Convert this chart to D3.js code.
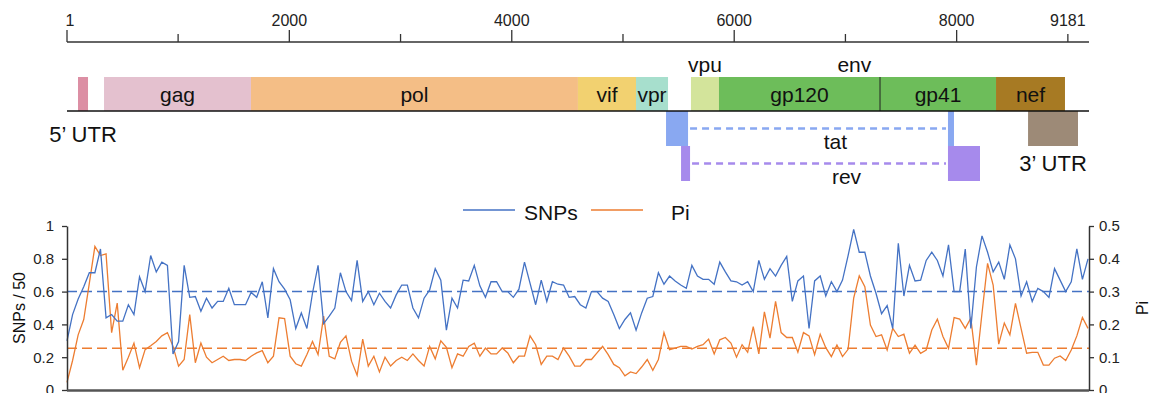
<!DOCTYPE html>
<html>
<head>
<meta charset="utf-8">
<script src="https://cdn.jsdelivr.net/npm/d3@7"></script>
<style>
  body { margin: 0; background: #ffffff; }
  .genome-chart svg { display: block; font-family: "Liberation Sans", Arial, Helvetica, sans-serif; }
</style>
</head>
<body>
<div class="genome-chart"></div>
<script>
// Genome ruler
var genomeLength = 9181;
var rulerTicks = [1, 1000, 2000, 3000, 4000, 5000, 6000, 7000, 8000, 9000];
var rulerLabels = ["1", "", "2000", "", "4000", "", "6000", "", "8000", "9181"];

// Genes drawn on top of the genome line
var geneNames = ["5utr", "gag", "pol", "vif", "vpr", "vpu", "gp120", "gp41", "nef"];
var geneLabels = ["", "gag", "pol", "vif", "vpr", "", "gp120", "gp41", "nef"];
var geneStarts = [100, 334, 1655, 4595, 5117, 5611, 5863, 7311, 8354];
var geneEnds = [190, 1655, 4595, 5117, 5405, 5863, 7311, 8354, 8974];

// Spliced genes and the 3' UTR below the line
var tatStarts = [5387, 7922];
var tatEnds = [5585, 7976];
var revStarts = [5522, 7922];
var revEnds = [5603, 8210];
var utr3Start = 8642;
var utr3End = 9091;

// Sliding windows of 50 bp along the genome
var snps = [
  0.30, 0.46, 0.555, 0.63, 0.715, 0.715, 0.86, 0.44, 0.46, 0.42,
  0.42, 0.52, 0.46, 0.69, 0.60, 0.82, 0.72, 0.78, 0.76, 0.22,
  0.295, 0.76, 0.565, 0.57, 0.48, 0.56, 0.50, 0.54, 0.54, 0.62,
  0.52, 0.52, 0.52, 0.595, 0.565, 0.66, 0.44, 0.74, 0.66, 0.615,
  0.55, 0.375, 0.47, 0.375, 0.59, 0.76, 0.405, 0.45, 0.50, 0.715,
  0.60, 0.545, 0.79, 0.54, 0.60, 0.52, 0.59, 0.54, 0.50, 0.58,
  0.64, 0.64, 0.50, 0.44, 0.56, 0.61, 0.74, 0.67, 0.365, 0.56,
  0.50, 0.67, 0.665, 0.76, 0.635, 0.565, 0.66, 0.66, 0.60, 0.60,
  0.565, 0.615, 0.78, 0.65, 0.52, 0.67, 0.54, 0.66, 0.645, 0.64,
  0.565, 0.57, 0.52, 0.50, 0.60, 0.60, 0.56, 0.54, 0.46, 0.375,
  0.43, 0.47, 0.365, 0.47, 0.56, 0.57, 0.715, 0.645, 0.695, 0.665,
  0.64, 0.62, 0.76, 0.695, 0.675, 0.675, 0.645, 0.78, 0.72, 0.665,
  0.66, 0.64, 0.66, 0.60, 0.79, 0.675, 0.74, 0.695, 0.76, 0.815,
  0.54, 0.665, 0.695, 0.375, 0.665, 0.695, 0.573, 0.66, 0.60, 0.67,
  0.82, 0.98, 0.84, 0.84, 0.695, 0.59, 0.465, 0.515, 0.375, 0.895,
  0.573, 0.76, 0.665, 0.67, 0.79, 0.84, 0.79, 0.695, 0.885, 0.60,
  0.60, 0.86, 0.375, 0.75, 0.94, 0.84, 0.72, 0.78, 0.675, 0.885,
  0.80, 0.573, 0.66, 0.54, 0.62, 0.60, 0.565, 0.74, 0.67, 0.60,
  0.66, 0.86, 0.675, 0.80
];
var pi = [
  0.023, 0.09, 0.168, 0.215, 0.325, 0.438, 0.41, 0.415, 0.175, 0.265,
  0.06, 0.10, 0.143, 0.068, 0.123, 0.135, 0.148, 0.165, 0.175, 0.133,
  0.073, 0.093, 0.23, 0.083, 0.143, 0.10, 0.083, 0.093, 0.103, 0.09,
  0.093, 0.093, 0.09, 0.103, 0.113, 0.12, 0.083, 0.103, 0.22, 0.218,
  0.103, 0.08, 0.073, 0.108, 0.148, 0.108, 0.225, 0.103, 0.095, 0.145,
  0.165, 0.088, 0.045, 0.155, 0.073, 0.103, 0.055, 0.10, 0.073, 0.09,
  0.10, 0.09, 0.11, 0.09, 0.073, 0.133, 0.095, 0.15, 0.13, 0.068,
  0.11, 0.103, 0.133, 0.143, 0.103, 0.128, 0.11, 0.11, 0.128, 0.113,
  0.083, 0.103, 0.103, 0.165, 0.138, 0.078, 0.103, 0.103, 0.093, 0.128,
  0.103, 0.073, 0.073, 0.093, 0.093, 0.113, 0.133, 0.108, 0.078, 0.068,
  0.043, 0.055, 0.05, 0.07, 0.093, 0.06, 0.093, 0.175, 0.123, 0.128,
  0.133, 0.133, 0.125, 0.133, 0.138, 0.155, 0.11, 0.153, 0.16, 0.143,
  0.10, 0.138, 0.115, 0.193, 0.11, 0.238, 0.158, 0.27, 0.175, 0.16,
  0.16, 0.115, 0.175, 0.165, 0.108, 0.17, 0.129, 0.102, 0.137, 0.102,
  0.124, 0.28, 0.348, 0.315, 0.198, 0.163, 0.168, 0.122, 0.188, 0.163,
  0.17, 0.112, 0.137, 0.112, 0.122, 0.183, 0.216, 0.163, 0.127, 0.221,
  0.216, 0.188, 0.219, 0.076, 0.234, 0.386, 0.32, 0.14, 0.204, 0.168,
  0.264, 0.188, 0.112, 0.115, 0.115, 0.076, 0.076, 0.097, 0.104, 0.09,
  0.122, 0.165, 0.221, 0.188
];
var snpsMean = 0.6;
var piMean = 0.127;

var snpTicks = [0, 0.2, 0.4, 0.6, 0.8, 1];
var piTicks = [0, 0.1, 0.2, 0.3, 0.4, 0.5];

// Colours
var geneColors = {
  "5utr": "#dc8fa4", gag: "#e4c1cf", pol: "#f4be86", vif: "#f2d170", vpr: "#a7dfcd",
  vpu: "#d3e49b", gp120: "#6dbd5a", gp41: "#6dbd5a", nef: "#a77a23"
};
var tatColor = "#89a8f1";
var revColor = "#a68aec";
var utr3Color = "#9d8a77";
var snpColor = "#4472c4";
var piColor = "#ed7d31";
var axisColor = "#333333";

drawChart(d3.select(".genome-chart"));

function drawChart(divElement) {
  var width = 1149, height = 393;
  var left = 67, right = 1088;

  var svg = divElement.append("svg")
    .attr("width", width)
    .attr("height", height);

  // Genome coordinate scale shared by the ruler and the gene map
  var gx = d3.scaleLinear().domain([1, genomeLength]).range([left, right]);

  // Ruler on top
  var rulerY = 42;
  var ruler = svg.append("g").attr("transform", "translate(0," + rulerY + ")");
  ruler.append("line")
    .attr("x1", left).attr("x2", right + 1)
    .attr("stroke", axisColor).attr("stroke-width", 1.3);
  ruler.selectAll(".tick")
    .data(rulerTicks)
    .enter()
    .append("line")
    .attr("x1", d => gx(d)).attr("x2", d => gx(d))
    .attr("y1", 0)
    .attr("y2", (d, i) => (i % 2 == 0 && i < 9) ? -12 : -8)
    .attr("stroke", axisColor).attr("stroke-width", 1.3);
  ruler.selectAll(".tick-label")
    .data(rulerTicks)
    .enter()
    .append("text")
    .attr("x", (d, i) => gx(d) + (i == 0 ? 3 : 0))
    .attr("y", -16)
    .attr("text-anchor", "middle")
    .attr("font-size", 16)
    .attr("fill", "#222")
    .text((d, i) => rulerLabels[i]);

  // Gene map
  var lineY = 111, boxTop = 77, rowH = 35;
  var genes = geneNames.map((n, i) => ({ name: n, label: geneLabels[i], start: geneStarts[i], end: geneEnds[i] }));
  svg.selectAll(".gene")
    .data(genes)
    .enter()
    .append("rect")
    .attr("x", d => gx(d.start))
    .attr("y", boxTop)
    .attr("width", d => gx(d.end) - gx(d.start))
    .attr("height", lineY - boxTop)
    .attr("fill", d => geneColors[d.name]);
  svg.selectAll(".gene-label")
    .data(genes.filter(d => d.label))
    .enter()
    .append("text")
    .attr("x", d => (gx(d.start) + gx(d.end)) / 2)
    .attr("y", 102)
    .attr("text-anchor", "middle")
    .attr("font-size", 21)
    .attr("fill", "#111")
    .text(d => d.label);

  // env divider between gp120 and gp41
  svg.append("line")
    .attr("x1", gx(geneStarts[7])).attr("x2", gx(geneStarts[7]))
    .attr("y1", boxTop).attr("y2", lineY)
    .attr("stroke", "#222").attr("stroke-width", 1);

  svg.append("text").attr("x", gx((geneStarts[5] + geneEnds[5]) / 2)).attr("y", 72)
    .attr("text-anchor", "middle").attr("font-size", 21).attr("fill", "#111").text("vpu");
  svg.append("text").attr("x", gx(7080)).attr("y", 72)
    .attr("text-anchor", "middle").attr("font-size", 21).attr("fill", "#111").text("env");

  // Spliced genes tat and rev
  function drawSpliced(starts, ends, top, color, label, labelX) {
    svg.selectAll(null)
      .data(starts)
      .enter()
      .append("rect")
      .attr("x", d => gx(d))
      .attr("y", top)
      .attr("width", (d, i) => gx(ends[i]) - gx(d))
      .attr("height", rowH)
      .attr("fill", color);
    svg.append("line")
      .attr("x1", gx(ends[0]) + 2).attr("x2", gx(starts[1]) - 2)
      .attr("y1", top + rowH / 2).attr("y2", top + rowH / 2)
      .attr("stroke", color).attr("stroke-width", 2.5)
      .attr("stroke-dasharray", "7,5");
    svg.append("text")
      .attr("x", labelX).attr("y", top + rowH / 2 + 20)
      .attr("text-anchor", "middle").attr("font-size", 21).attr("fill", "#111")
      .text(label);
  }
  drawSpliced(tatStarts, tatEnds, lineY, tatColor, "tat", gx(6910));
  drawSpliced(revStarts, revEnds, lineY + rowH, revColor, "rev", gx(7010));

  svg.append("rect")
    .attr("x", gx(utr3Start)).attr("y", lineY)
    .attr("width", gx(utr3End) - gx(utr3Start)).attr("height", rowH)
    .attr("fill", utr3Color);

  // Genome line
  svg.append("line")
    .attr("x1", left).attr("x2", right + 1)
    .attr("y1", lineY).attr("y2", lineY)
    .attr("stroke", "#111").attr("stroke-width", 1.5);

  svg.append("text").attr("x", 83).attr("y", 142)
    .attr("text-anchor", "middle").attr("font-size", 22).attr("fill", "#111").text("5\u2019 UTR");
  svg.append("text").attr("x", gx((utr3Start + utr3End) / 2)).attr("y", 171)
    .attr("text-anchor", "middle").attr("font-size", 22).attr("fill", "#111").text("3\u2019 UTR");

  // Diversity plot
  var plotTop = 226, plotBottom = 390;
  var xScale = d3.scaleLinear().domain([0, snps.length - 1]).range([left, right]);
  var ySnp = d3.scaleLinear().domain([0, 1]).range([plotBottom, plotTop]);
  var yPi = d3.scaleLinear().domain([0, 0.5]).range([plotBottom, plotTop]);

  var plot = svg.append("g").attr("class", "plot");

  // Mean lines
  plot.append("line")
    .attr("x1", left).attr("x2", right + 1)
    .attr("y1", ySnp(snpsMean)).attr("y2", ySnp(snpsMean))
    .attr("stroke", snpColor).attr("stroke-width", 1.5).attr("stroke-dasharray", "10,5");
  plot.append("line")
    .attr("x1", left).attr("x2", right + 1)
    .attr("y1", yPi(piMean)).attr("y2", yPi(piMean))
    .attr("stroke", piColor).attr("stroke-width", 1.5).attr("stroke-dasharray", "10,5");

  plot.append("path")
    .datum(pi)
    .attr("fill", "none")
    .attr("stroke", piColor)
    .attr("stroke-width", 1.3)
    .attr("d", d3.line().x((d, i) => xScale(i)).y(d => yPi(d)));
  plot.append("path")
    .datum(snps)
    .attr("fill", "none")
    .attr("stroke", snpColor)
    .attr("stroke-width", 1.3)
    .attr("d", d3.line().x((d, i) => xScale(i)).y(d => ySnp(d)));

  // Axes
  var yAxisLeft = d3.axisLeft(ySnp).tickValues(snpTicks).tickSize(5).tickSizeOuter(0).tickPadding(8)
    .tickFormat(d => d == 0 || d == 1 ? d3.format("d")(d) : d3.format(".1f")(d));
  var yAxisRight = d3.axisRight(yPi).tickValues(piTicks).tickSize(5).tickSizeOuter(0).tickPadding(5)
    .tickFormat(d => d == 0 ? "0" : d3.format(".1f")(d));

  svg.append("g")
    .attr("class", "y-axis")
    .attr("transform", "translate(" + left + ",0)")
    .call(yAxisLeft);
  svg.append("g")
    .attr("class", "y-axis")
    .attr("transform", "translate(" + (right + 1) + ",0)")
    .call(yAxisRight);
  svg.selectAll(".y-axis .domain").attr("stroke", axisColor).attr("stroke-width", 1.5);
  svg.selectAll(".y-axis .tick line").attr("stroke", axisColor).attr("stroke-width", 1.3);
  svg.selectAll(".y-axis .tick text")
    .attr("font-size", 15).attr("fill", "#222")
    .attr("font-family", "\"Liberation Sans\", Arial, sans-serif");

  // Bottom axis line
  svg.append("line")
    .attr("x1", left).attr("x2", right + 1)
    .attr("y1", plotBottom + 0.5).attr("y2", plotBottom + 0.5)
    .attr("stroke", "#555").attr("stroke-width", 2.5);

  // Axis titles
  svg.append("text")
    .attr("transform", "translate(25," + ((plotTop + plotBottom) / 2) + ") rotate(-90)")
    .attr("text-anchor", "middle").attr("font-size", 16).attr("fill", "#111")
    .text("SNPs / 50");
  svg.append("text")
    .attr("transform", "translate(1148," + ((plotTop + plotBottom) / 2) + ") rotate(-90)")
    .attr("text-anchor", "middle").attr("font-size", 16).attr("fill", "#111")
    .text("Pi");

  // Legend
  var legend = svg.append("g").attr("class", "legend");
  legend.append("line").attr("x1", 463).attr("x2", 515).attr("y1", 210).attr("y2", 210)
    .attr("stroke", snpColor).attr("stroke-width", 1.3);
  legend.append("text").attr("x", 524).attr("y", 220).attr("font-size", 21).attr("fill", "#111").text("SNPs");
  legend.append("line").attr("x1", 591).attr("x2", 643).attr("y1", 210).attr("y2", 210)
    .attr("stroke", piColor).attr("stroke-width", 1.3);
  legend.append("text").attr("x", 671).attr("y", 220).attr("font-size", 21).attr("fill", "#111").text("Pi");
}
</script>
</body>
</html>
